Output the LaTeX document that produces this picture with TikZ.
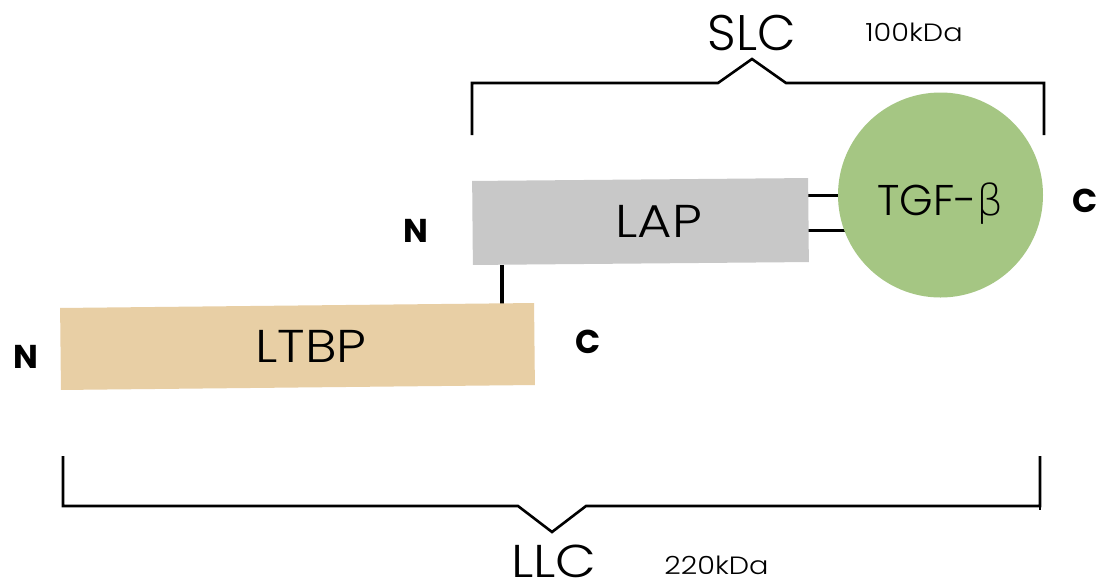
\documentclass[tikz,border=0pt]{standalone}
\usepackage{fontspec}
\setmainfont{Poppins Light}[BoldFont={Poppins Bold}]
\newfontfamily\widefont{Poppins Light}[FakeStretch=1.15]
\newfontfamily\greekfont{DejaVu Sans ExtraLight}
\usetikzlibrary{backgrounds,calc}
\definecolor{lapgray}{HTML}{C8C8C8}
\definecolor{ltbpsand}{HTML}{E8CFA5}
\definecolor{tgfgreen}{HTML}{A5C683}
\begin{document}
\begin{tikzpicture}[x=1pt,y=-1pt,
  box/.style={inner sep=0pt, outer sep=0pt},
  lbl/.style={inner sep=0pt, anchor=base, font=\widefont\fontsize{46}{46}\selectfont},
  tgftext/.style={inner sep=0pt, anchor=base, font=\fontsize{43}{43}\selectfont},
  big/.style={inner sep=0pt, anchor=base, font=\fontsize{50}{50}\selectfont},
  small/.style={inner sep=0pt, anchor=base, font=\widefont\fontsize{25}{25}\selectfont},
  term/.style={inner sep=0pt, anchor=base west, font=\bfseries\fontsize{33}{33}\selectfont},
  link/.style={line width=3.8pt},
  brace/.style={line width=2.6pt, line join=miter}]
\begin{scope}[on background layer]
  \fill[white] (0,0) rectangle (1096,582);
\end{scope}
\useasboundingbox (0,0) rectangle (1096,582);

% shapes
\node[box, fill=lapgray, minimum width=336pt, minimum height=84pt, rotate=0.5] (lap) at (640.5,221.5) {};
\node[box, fill=ltbpsand, minimum width=474pt, minimum height=82pt, rotate=0.6] (ltbp) at (297.5,346.5) {};
\node[box, circle, fill=tgfgreen, minimum size=205pt] (tgf) at (940.5,195) {};

% connectors
\begin{scope}[on background layer]
  \draw[link] ([xshift=29pt]lap.south west) -- ([xshift=29pt]lap.south west |- ltbp.north);
  \draw[link] ([yshift=24.5pt]lap.east) -- ([yshift=24.5pt]lap.east -| tgf.center);
  \draw[link] ([yshift=-10.5pt]lap.east) -- ([yshift=-10.5pt]lap.east -| tgf.center);
\end{scope}

% labels
\node[lbl] (laplbl) at (659,237) {LAP};
\node[lbl] (ltbplbl) at (311,362) {LTBP};
\node[tgftext] (tgflbl) at (940.5,215) {TGF-{\greekfont β}};
\node[term] (n1) at (403,242) {N};
\node[term] (n2) at (13,368) {N};
\node[term] (c1) at (575,353) {C};
\node[term] (c2) at (1072,212) {C};

% SLC bracket
\coordinate (s1) at (472,135);
\coordinate (s2) at (1044,135);
\draw[brace] (s1) -- (472,83) -- (718,83) -- (752,59) -- (786,83) -- (1044,83) -- (s2);
\node[big] (slc) at (752,50) {SLC};
\node[small] (slckda) at (914,41) {100kDa};

% LLC bracket
\coordinate (l1) at (63,456);
\coordinate (l2) at (1040,456);
\draw[brace] (l1) -- (63,506) -- (518,506) -- (552,532) -- (586,506) -- (1040,506) -- (l2);
\draw[brace] (1040,506) -- (1040,510);
\node[big, font=\widefont\fontsize{46}{46}\selectfont] (llc) at (554,577) {LLC};
\node[small] (llckda) at (716.5,574) {220kDa};
\end{tikzpicture}
\end{document}
